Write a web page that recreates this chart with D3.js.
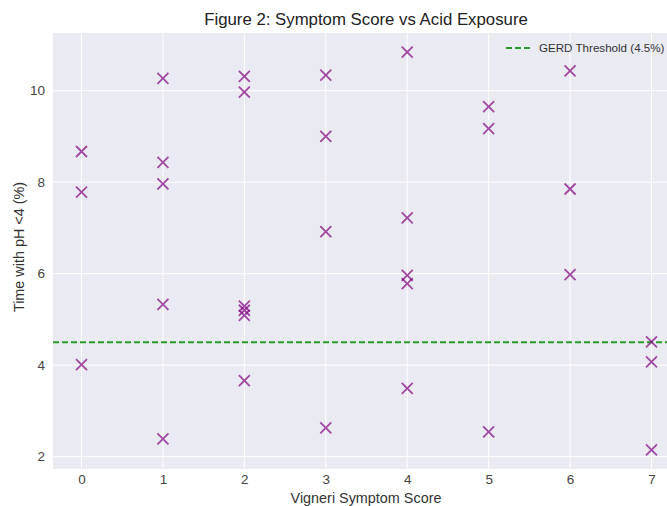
<!DOCTYPE html>
<html>
<head>
<meta charset="utf-8">
<script src="https://cdn.jsdelivr.net/npm/d3@7"></script>
<style>
  body { margin: 0; background: #fff; }
  text { font-family: "Liberation Sans", Arial, sans-serif; }
</style>
</head>
<body>
<svg id="chart" width="667" height="506"></svg>
<script>
// Vigneri score (x) and % time with pH < 4 (y)
var scores = [0, 0, 0,
              1, 1, 1, 1, 1,
              2, 2, 2, 2, 2, 2,
              3, 3, 3, 3,
              4, 4, 4, 4, 4,
              5, 5, 5,
              6, 6, 6,
              7, 7, 7];
var acidTime = [8.67, 7.78, 4.01,
                10.27, 8.43, 7.96, 5.33, 2.39,
                10.31, 9.97, 5.29, 5.2, 5.09, 3.66,
                10.34, 9.0, 6.92, 2.63,
                10.84, 7.22, 5.96, 5.78, 3.49,
                9.65, 9.17, 2.54,
                10.43, 7.85, 5.98,
                4.51, 4.07, 2.15];
var xTicks = [0, 1, 2, 3, 4, 5, 6, 7];
var yTicks = [2, 4, 6, 8, 10];
var threshold = 4.5;

var svg = d3.select("#chart");
var margin = { left: 53, top: 33, right: 680, bottom: 469 };

var x = d3.scaleLinear().domain([-0.35, 7.35]).range([margin.left, margin.right]);
var y = d3.scaleLinear().domain([1.73, 11.26]).range([margin.bottom, margin.top]);

// background
svg.append("rect")
    .attr("x", margin.left).attr("y", margin.top)
    .attr("width", margin.right - margin.left)
    .attr("height", margin.bottom - margin.top)
    .attr("fill", "#eaeaf2");

// grid
var grid = svg.append("g");
grid.selectAll("line.gx").data(xTicks).enter().append("line")
    .attr("x1", function(d) { return x(d); }).attr("x2", function(d) { return x(d); })
    .attr("y1", margin.top).attr("y2", margin.bottom)
    .attr("stroke", "#fff").attr("stroke-width", 1);
grid.selectAll("line.gy").data(yTicks).enter().append("line")
    .attr("y1", function(d) { return y(d); }).attr("y2", function(d) { return y(d); })
    .attr("x1", margin.left).attr("x2", margin.right)
    .attr("stroke", "#fff").attr("stroke-width", 1);

// axes (labels only, seaborn style)
var xAxis = svg.append("g")
    .attr("transform", "translate(0," + margin.bottom + ")")
    .call(d3.axisBottom(x).tickValues(xTicks).tickSize(0).tickPadding(5));
var yAxis = svg.append("g")
    .attr("transform", "translate(" + margin.left + ",0)")
    .call(d3.axisLeft(y).tickValues(yTicks).tickSize(0).tickPadding(8));
[xAxis, yAxis].forEach(function(a) {
    a.select(".domain").remove();
    a.selectAll("text").attr("fill", "#444").style("font-size", "13.5px")
        .style("font-family", "'Liberation Sans', Arial, sans-serif");
});

// threshold line
svg.append("line")
    .attr("x1", margin.left).attr("x2", margin.right)
    .attr("y1", y(threshold)).attr("y2", y(threshold))
    .attr("stroke", "#2a9a2a").attr("stroke-width", 1.8)
    .attr("stroke-dasharray", "6,3");

// markers
var pts = d3.range(scores.length).map(function(i) { return [scores[i], acidTime[i]]; });
var r = 5.5;
svg.append("g").selectAll("path.pt").data(pts).enter().append("path")
    .attr("class", "pt")
    .attr("d", function(d) {
        var cx = x(d[0]), cy = y(d[1]);
        return "M" + (cx - r) + "," + (cy - r) + "L" + (cx + r) + "," + (cy + r) +
               "M" + (cx - r) + "," + (cy + r) + "L" + (cx + r) + "," + (cy - r);
    })
    .attr("stroke", "#800080").attr("stroke-opacity", 0.7)
    .attr("stroke-width", 1.8).attr("fill", "none");

// legend
svg.append("line")
    .attr("x1", 506).attr("x2", 531).attr("y1", 48).attr("y2", 48)
    .attr("stroke", "#2a9a2a").attr("stroke-width", 1.8)
    .attr("stroke-dasharray", "6,3");
svg.append("text")
    .attr("x", 539).attr("y", 52)
    .attr("fill", "#333").style("font-size", "11.6px")
    .text("GERD Threshold (4.5%)");

// title + labels
svg.append("text")
    .attr("x", 366).attr("y", 25).attr("text-anchor", "middle")
    .attr("fill", "#222").style("font-size", "16.8px")
    .text("Figure 2: Symptom Score vs Acid Exposure");
svg.append("text")
    .attr("x", 366).attr("y", 503).attr("text-anchor", "middle")
    .attr("fill", "#333").style("font-size", "14.4px")
    .text("Vigneri Symptom Score");
svg.append("text")
    .attr("transform", "translate(24,247) rotate(-90)")
    .attr("text-anchor", "middle")
    .attr("fill", "#333").style("font-size", "14.4px")
    .text("Time with pH <4 (%)");
</script>
</body>
</html>
